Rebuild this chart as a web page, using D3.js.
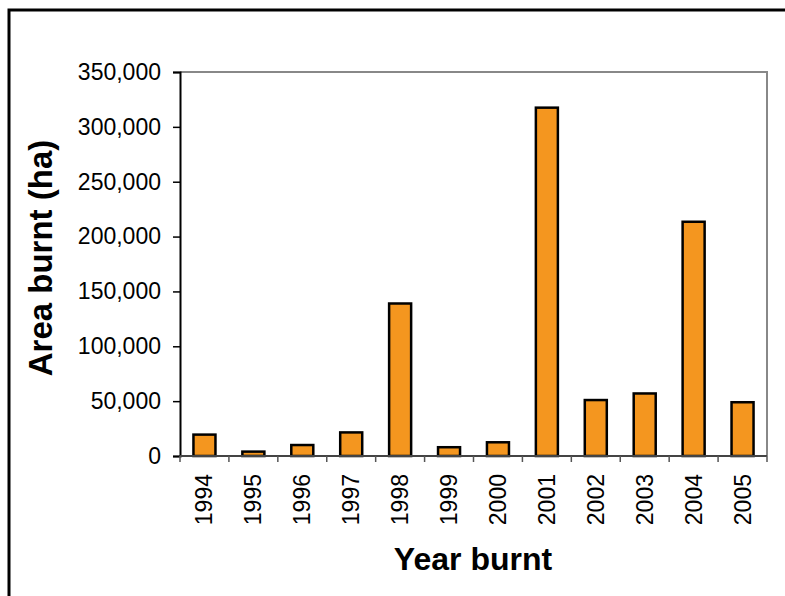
<!DOCTYPE html>
<html>
<head>
<meta charset="utf-8">
<script src="https://cdn.jsdelivr.net/npm/d3@7"></script>
<style>
  html, body { margin: 0; padding: 0; background: #fff; }
  svg { display: block; font-family: "Liberation Sans", Arial, sans-serif; }
</style>
</head>
<body>
<svg id="chart" width="785" height="596"></svg>
<script>
// Annual area burnt, hectares
const years = ["1994","1995","1996","1997","1998","1999","2000","2001","2002","2003","2004","2005"];
const areaBurnt = [19500, 4000, 10000, 21500, 139000, 8000, 12500, 317500, 51000, 57000, 213500, 49000];
const yTicks = [0, 50000, 100000, 150000, 200000, 250000, 300000, 350000];
const yMax = 350000;

const svg = d3.select("#chart");
const plot = { left: 180, right: 767, top: 72, bottom: 456 };

// outer frame
svg.append("rect")
  .attr("x", 9).attr("y", 10)
  .attr("width", 800).attr("height", 620)
  .attr("fill", "none").attr("stroke", "#000").attr("stroke-width", 3);

const x = d3.scaleBand().domain(years).range([plot.left, plot.right])
  .paddingInner(0.55).paddingOuter(0.275);
const y = d3.scaleLinear().domain([0, yMax]).range([plot.bottom, plot.top]);

// plot area border (top and right)
svg.append("path")
  .attr("d", `M${plot.left},${plot.top}H${plot.right}V${plot.bottom}`)
  .attr("fill", "none").attr("stroke", "#888").attr("stroke-width", 2);

// bars
svg.append("g").selectAll("rect").data(years).join("rect")
  .attr("x", d => x(d))
  .attr("y", (d, i) => y(areaBurnt[i]))
  .attr("width", x.bandwidth())
  .attr("height", (d, i) => y(0) - y(areaBurnt[i]))
  .attr("fill", "#F4961F")
  .attr("stroke", "#000").attr("stroke-width", 2.5);

// y axis
const fmt = d3.format(",");
const yAxis = svg.append("g").attr("transform", `translate(${plot.left},0)`)
  .call(d3.axisLeft(y).tickValues(yTicks).tickFormat(fmt).tickSize(7).tickPadding(12));
yAxis.select(".domain").attr("stroke", "#000").attr("stroke-width", 2);
yAxis.selectAll(".tick line").attr("stroke", "#000").attr("stroke-width", 1.5);
yAxis.selectAll(".tick text").attr("font-size", 23).attr("fill", "#000")
  .attr("font-family", "'Liberation Sans', Arial, sans-serif");

// x axis with ticks at category boundaries
const step = x.step();
const boundaries = d3.range(years.length + 1).map(i => plot.left + i * step);
svg.append("line")
  .attr("x1", plot.left).attr("x2", plot.right).attr("y1", plot.bottom).attr("y2", plot.bottom)
  .attr("stroke", "#444").attr("stroke-width", 2);
svg.append("g").selectAll("line").data(boundaries).join("line")
  .attr("x1", d => d).attr("x2", d => d)
  .attr("y1", plot.bottom).attr("y2", plot.bottom + 6)
  .attr("stroke", "#555").attr("stroke-width", 1.5);

svg.append("g").selectAll("text").data(years).join("text")
  .attr("transform", d => `translate(${x(d) + x.bandwidth() / 2 + 8},${plot.bottom + 18}) rotate(-90)`)
  .attr("text-anchor", "end")
  .attr("font-size", 23)
  .attr("fill", "#000")
  .text(d => d);

// axis titles
svg.append("text")
  .attr("x", 473).attr("y", 570)
  .attr("text-anchor", "middle")
  .attr("font-size", 32).attr("font-weight", "bold")
  .text("Year burnt");

svg.append("text")
  .attr("transform", "translate(52,258) rotate(-90)")
  .attr("text-anchor", "middle")
  .attr("font-size", 33).attr("font-weight", "bold")
  .text("Area burnt (ha)");
</script>
</body>
</html>
